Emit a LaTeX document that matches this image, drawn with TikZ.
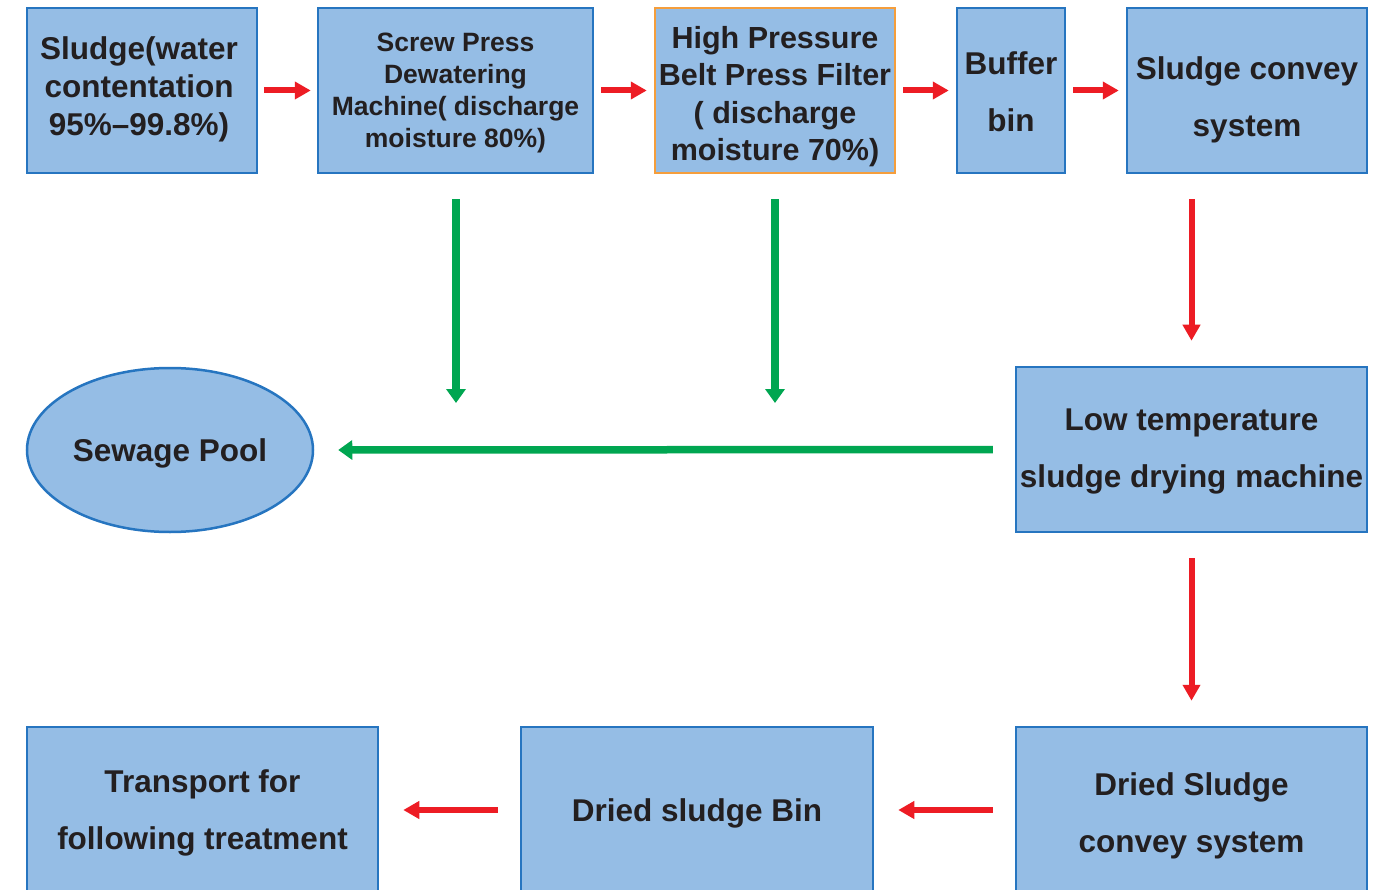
\documentclass[tikz,border=0pt]{standalone}
\usepackage{fontspec}
\setmainfont{Liberation Sans}
\usetikzlibrary{arrows.meta,shapes.geometric}
\definecolor{boxfill}{RGB}{149,189,229}
\definecolor{boxline}{RGB}{38,117,192}
\definecolor{orangeline}{RGB}{245,158,60}
\definecolor{redarr}{RGB}{237,28,36}
\definecolor{greenarr}{RGB}{0,166,81}
\definecolor{txt}{RGB}{35,31,32}
\tikzset{
  box/.style={draw=boxline, fill=boxfill, line width=2.5pt, rectangle, inner sep=0pt,
    minimum height=165pt},
  lbl/.style={align=center, text=txt, inner sep=0pt,
    font=\fontsize{31.5}{57}\selectfont\bfseries},
  lblthree/.style={lbl, font=\fontsize{31.5}{38}\selectfont\bfseries},
  lblfour/.style={lbl, font=\fontsize{30.5}{37.5}\selectfont\bfseries},
  lblsmall/.style={lbl, font=\fontsize{26.5}{32}\selectfont\bfseries},
  redflow/.style={draw=redarr, line width=6pt, -{Triangle[length=16pt,width=17pt]}},
  greenflow/.style={draw=greenarr, line width=7.5pt, -{Triangle[length=14pt,width=19pt]}},
}
\begin{document}
\begin{tikzpicture}[x=1pt,y=1pt]
\clip (0,0) rectangle (1375,-890);
\fill[white] (0,0) rectangle (1375,-890);
% top row
\node[box, minimum width=230pt,
  label={[lblthree, xshift=-3pt, yshift=1pt]center:{Sludge(water\\contentation\\95\%--99.8\%)}}] (b1) at (142,-90.5) {};
\node[box, minimum width=275pt,
  label={[lblsmall, yshift=-3pt]center:{Screw Press\\Dewatering\\Machine( discharge\\moisture 80\%)}}] (b2) at (455.5,-90.5) {};
\node[box, draw=orangeline, minimum width=240pt,
  label={[lblfour, yshift=-6pt]center:{High Pressure\\Belt Press Filter\\( discharge\\moisture 70\%)}}] (b3) at (775,-90.5) {};
\node[box, minimum width=108pt,
  label={[lbl, yshift=-1pt]center:{Buffer\\bin}}] (b4) at (1011,-90.5) {};
\node[box, minimum width=240pt,
  label={[lbl, yshift=-9pt]center:{Sludge convey\\system}}] (b5) at (1247,-90.5) {};
% middle
\node[box, minimum width=351pt,
  label={[lbl, yshift=-2pt]center:{Low temperature\\sludge drying machine}}] (b6) at (1191.5,-449.5) {};
\node[draw=boxline, fill=boxfill, line width=2.5pt, ellipse, minimum width=286pt, minimum height=164pt, inner sep=0pt,
  label={[lbl, yshift=-3pt]center:{Sewage Pool}}] (pool) at (170,-450) {};
% bottom row
\node[box, minimum width=351pt, minimum height=166pt,
  label={[lbl, yshift=-6pt]center:{Dried Sludge\\convey system}}] (b7) at (1191.5,-810) {};
\node[box, minimum width=352pt, minimum height=166pt,
  label={[lbl, yshift=-3pt]center:{Dried sludge Bin}}] (b8) at (697,-810) {};
\node[box, minimum width=351pt, minimum height=166pt,
  label={[lbl, yshift=-3pt]center:{Transport for\\following treatment}}] (b9) at (202.5,-810) {};
% free ends of green arrows
\coordinate (g1) at (456,-403);
\coordinate (g2) at (775,-403);
% red flow
\draw[redflow, shorten <=6pt, shorten >=6pt] (b1.east) -- (b2.west);
\draw[redflow, shorten <=7pt, shorten >=7pt] (b2.east) -- (b3.west);
\draw[redflow, shorten <=7pt, shorten >=7pt] (b3.east) -- (b4.west);
\draw[redflow, shorten <=7pt, shorten >=7pt] (b4.east) -- (b5.west);
\draw[redflow, shorten <=25pt, shorten >=25pt] (b6.north |- b5.south) -- (b6.north);
\draw[redflow, shorten <=25pt, shorten >=25pt] (b6.south) -- (b7.north);
\draw[redflow, shorten <=22pt, shorten >=24pt] (b7.west) -- (b8.east);
\draw[redflow, shorten <=22pt, shorten >=24pt] (b8.west) -- (b9.east);
% green flow
\draw[greenflow, shorten <=25pt] (g1 |- b2.south) -- (g1);
\draw[greenflow, shorten <=25pt] (g2 |- b3.south) -- (g2);
\draw[greenflow, shorten <=22pt, shorten >=24pt] (b6.west) -- (pool.east);
\end{tikzpicture}
\end{document}
